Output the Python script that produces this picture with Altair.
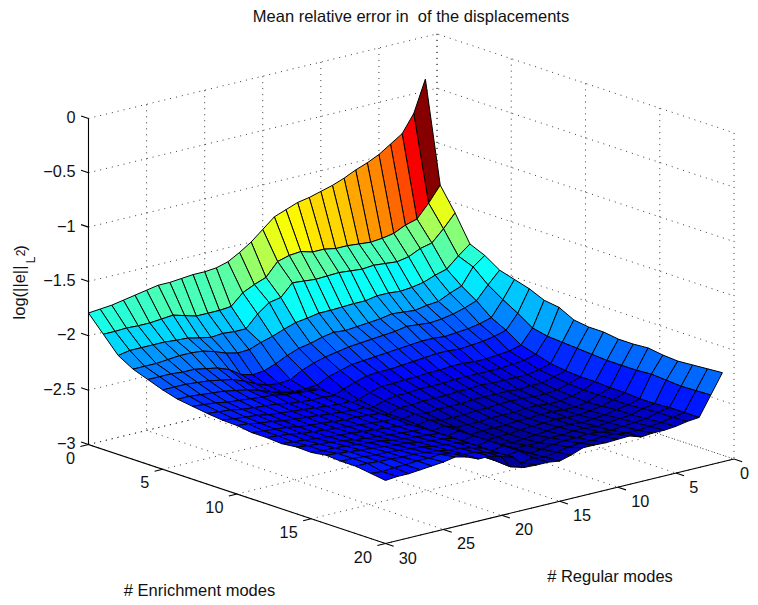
import altair as alt

# log error per enrichment count (0..20, rows) and regular count (1..30, columns)
Z = [
[-0.39,-0.68,-0.84,-0.91,-0.98,-1.03,-1.07,-1.12,-1.16,-1.19,-1.22,-1.24,-1.28,-1.32,-1.41,-1.50,-1.57,-1.63,-1.66,-1.67,-1.67,-1.68,-1.69,-1.69,-1.71,-1.73,-1.75,-1.77,-1.78,-1.79],
[-1.32,-1.46,-1.58,-1.61,-1.66,-1.68,-1.69,-1.68,-1.67,-1.67,-1.65,-1.65,-1.62,-1.63,-1.66,-1.78,-1.82,-1.87,-1.97,-1.98,-1.98,-1.98,-1.95,-1.92,-1.93,-1.94,-1.94,-1.935,-1.94,-1.94],
[-1.53,-1.65,-1.755,-1.78,-1.83,-1.85,-1.84,-1.83,-1.84,-1.83,-1.82,-1.825,-1.83,-1.82,-1.81,-1.92,-1.94,-2.02,-2.13,-2.13,-2.12,-2.13,-2.11,-2.085,-2.08,-2.07,-2.07,-2.07,-2.07,-2.09],
[-1.77,-1.855,-1.95,-1.98,-2.02,-2.04,-2.05,-2.04,-2.04,-2.06,-2.06,-2.065,-2.07,-2.07,-2.09,-2.105,-2.14,-2.18,-2.21,-2.25,-2.255,-2.23,-2.19,-2.16,-2.15,-2.15,-2.16,-2.17,-2.17,-2.17],
[-1.83,-1.91,-2.06,-2.10,-2.15,-2.16,-2.18,-2.17,-2.16,-2.18,-2.19,-2.20,-2.21,-2.20,-2.22,-2.25,-2.27,-2.31,-2.36,-2.40,-2.41,-2.38,-2.31,-2.27,-2.25,-2.23,-2.23,-2.22,-2.22,-2.22],
[-1.92,-2.03,-2.15,-2.19,-2.22,-2.24,-2.25,-2.24,-2.23,-2.25,-2.26,-2.27,-2.28,-2.29,-2.31,-2.33,-2.36,-2.40,-2.46,-2.47,-2.46,-2.42,-2.37,-2.33,-2.31,-2.29,-2.28,-2.27,-2.27,-2.27],
[-1.96,-2.12,-2.26,-2.29,-2.31,-2.32,-2.33,-2.32,-2.32,-2.33,-2.34,-2.35,-2.36,-2.37,-2.38,-2.41,-2.44,-2.49,-2.50,-2.50,-2.48,-2.45,-2.41,-2.38,-2.36,-2.34,-2.33,-2.32,-2.31,-2.31],
[-2.00,-2.20,-2.33,-2.36,-2.38,-2.39,-2.40,-2.39,-2.39,-2.40,-2.41,-2.42,-2.43,-2.43,-2.44,-2.47,-2.51,-2.55,-2.46,-2.45,-2.44,-2.43,-2.41,-2.40,-2.39,-2.38,-2.37,-2.35,-2.34,-2.33],
[-2.06,-2.29,-2.42,-2.45,-2.46,-2.47,-2.47,-2.46,-2.46,-2.47,-2.47,-2.48,-2.48,-2.49,-2.49,-2.52,-2.56,-2.59,-2.47,-2.46,-2.46,-2.45,-2.44,-2.42,-2.41,-2.40,-2.39,-2.37,-2.36,-2.35],
[-2.08,-2.32,-2.46,-2.49,-2.50,-2.51,-2.51,-2.51,-2.51,-2.51,-2.52,-2.52,-2.52,-2.53,-2.53,-2.55,-2.58,-2.60,-2.48,-2.48,-2.47,-2.46,-2.45,-2.44,-2.43,-2.42,-2.40,-2.39,-2.38,-2.365],
[-2.15,-2.33,-2.50,-2.53,-2.55,-2.55,-2.55,-2.55,-2.54,-2.55,-2.55,-2.56,-2.56,-2.56,-2.57,-2.57,-2.60,-2.62,-2.49,-2.49,-2.48,-2.47,-2.46,-2.45,-2.44,-2.43,-2.41,-2.40,-2.38,-2.37],
[-2.17,-2.34,-2.52,-2.55,-2.58,-2.58,-2.59,-2.58,-2.58,-2.58,-2.58,-2.59,-2.59,-2.59,-2.60,-2.58,-2.60,-2.62,-2.50,-2.49,-2.48,-2.48,-2.47,-2.46,-2.45,-2.44,-2.42,-2.41,-2.40,-2.39],
[-2.17,-2.35,-2.53,-2.57,-2.60,-2.61,-2.61,-2.60,-2.60,-2.60,-2.61,-2.61,-2.62,-2.62,-2.62,-2.59,-2.61,-2.63,-2.50,-2.50,-2.49,-2.48,-2.47,-2.46,-2.45,-2.44,-2.43,-2.41,-2.40,-2.39],
[-2.19,-2.36,-2.53,-2.58,-2.61,-2.63,-2.63,-2.62,-2.62,-2.63,-2.63,-2.63,-2.64,-2.64,-2.64,-2.60,-2.62,-2.63,-2.51,-2.50,-2.49,-2.48,-2.47,-2.46,-2.45,-2.44,-2.43,-2.42,-2.41,-2.40],
[-2.19,-2.36,-2.54,-2.58,-2.62,-2.64,-2.64,-2.63,-2.63,-2.64,-2.64,-2.65,-2.65,-2.65,-2.66,-2.60,-2.62,-2.64,-2.50,-2.50,-2.49,-2.48,-2.47,-2.46,-2.45,-2.43,-2.42,-2.41,-2.40,-2.385],
[-2.18,-2.36,-2.54,-2.58,-2.61,-2.63,-2.64,-2.64,-2.63,-2.64,-2.64,-2.65,-2.66,-2.66,-2.67,-2.60,-2.62,-2.64,-2.50,-2.49,-2.48,-2.47,-2.46,-2.44,-2.43,-2.42,-2.41,-2.40,-2.40,-2.39],
[-2.20,-2.35,-2.55,-2.58,-2.60,-2.62,-2.63,-2.64,-2.63,-2.63,-2.64,-2.65,-2.66,-2.67,-2.66,-2.60,-2.62,-2.64,-2.50,-2.48,-2.47,-2.46,-2.44,-2.43,-2.42,-2.41,-2.40,-2.39,-2.38,-2.37],
[-2.21,-2.36,-2.55,-2.57,-2.60,-2.61,-2.62,-2.63,-2.62,-2.62,-2.63,-2.63,-2.65,-2.65,-2.65,-2.60,-2.62,-2.64,-2.50,-2.47,-2.46,-2.45,-2.43,-2.42,-2.41,-2.40,-2.40,-2.39,-2.38,-2.38],
[-2.20,-2.37,-2.54,-2.56,-2.59,-2.60,-2.61,-2.62,-2.61,-2.60,-2.61,-2.61,-2.62,-2.64,-2.65,-2.60,-2.62,-2.64,-2.50,-2.47,-2.45,-2.44,-2.42,-2.41,-2.40,-2.40,-2.39,-2.39,-2.38,-2.38],
[-2.19,-2.365,-2.54,-2.56,-2.58,-2.59,-2.60,-2.60,-2.58,-2.58,-2.59,-2.59,-2.60,-2.62,-2.64,-2.62,-2.64,-2.65,-2.50,-2.47,-2.44,-2.43,-2.40,-2.38,-2.39,-2.39,-2.40,-2.40,-2.41,-2.40],
[-2.18,-2.36,-2.54,-2.55,-2.57,-2.58,-2.58,-2.59,-2.555,-2.56,-2.565,-2.56,-2.56,-2.60,-2.63,-2.615,-2.615,-2.61,-2.49,-2.46,-2.43,-2.43,-2.385,-2.36,-2.38,-2.39,-2.40,-2.41,-2.41,-2.42],
]
ENRICH = list(range(0, 21))
REGULAR = list(range(1, 31))
Z_TICKS = [0, -0.5, -1, -1.5, -2, -2.5, -3]
E_TICKS = [0, 5, 10, 15, 20]
R_TICKS = [0, 5, 10, 15, 20, 25, 30]
TITLE = "Mean relative error in\u00a0 of the displacements"

W, H = 742, 592
FONT = "Liberation Sans"

def proj(e, r, z):
    """Orthographic view of the box, in chart pixels."""
    return [437 - 8 + 14.85 * e - 11.617 * r,
            360 - 8 + 4.95 * e + 2.817 * r - 108.7 * (z + 3)]

def jet(t):
    def c(v):
        return max(0.0, min(1.0, v))
    r = c(min(4 * t - 1.5, -4 * t + 4.5))
    g = c(min(4 * t - 0.5, -4 * t + 3.5))
    b = c(min(4 * t + 0.5, -4 * t + 2.5))
    return "#%02x%02x%02x" % (round(r * 255), round(g * 255), round(b * 255))

JET = [jet((i + 0.5) / 64) for i in range(64)]
zmin = -2.72
zmax = max(max(row) for row in Z)

def line_feature(pts):
    return {"type": "Feature", "properties": {},
            "geometry": {"type": "LineString", "coordinates": pts}}

# page frame, so the identity projection stays at one pixel per unit
frame = {"type": "Feature", "properties": {},
         "geometry": {"type": "Polygon",
                      "coordinates": [[[0, 0], [0, H], [W, H], [W, 0], [0, 0]]]}}

cells = []
for i in range(len(ENRICH) - 1):
    for j in range(len(REGULAR) - 1):
        e0, e1 = ENRICH[i], ENRICH[i + 1]
        r0, r1 = REGULAR[j], REGULAR[j + 1]
        ring = [proj(e0, r0, Z[i][j]), proj(e0, r1, Z[i][j + 1]),
                proj(e1, r1, Z[i + 1][j + 1]), proj(e1, r0, Z[i + 1][j]),
                proj(e0, r0, Z[i][j])]
        cells.append({"type": "Feature", "properties": {"z": Z[i][j]},
                      "geometry": {"type": "Polygon", "coordinates": [ring]}})

grid = []
zt, zb = 0, -3
emax, rmax = E_TICKS[-1], R_TICKS[-1]
for z in Z_TICKS:
    grid.append(line_feature([proj(0, rmax, z), proj(0, 0, z), proj(emax, 0, z)]))
for e in E_TICKS:
    grid.append(line_feature([proj(e, 0, zt), proj(e, 0, zb), proj(e, rmax, zb)]))
for r in R_TICKS:
    grid.append(line_feature([proj(0, r, zt), proj(0, r, zb), proj(emax, r, zb)]))

axes = [line_feature([proj(0, rmax, zt), proj(0, rmax, zb), proj(emax, rmax, zb), proj(emax, 0, zb)])]
for z in Z_TICKS:
    axes.append(line_feature([proj(0, rmax, z), proj(-0.5, rmax, z)]))
for e in E_TICKS:
    axes.append(line_feature([proj(e, rmax, zb), proj(e, rmax + 0.7, zb)]))
for r in R_TICKS:
    axes.append(line_feature([proj(emax, r, zb), proj(emax + 0.55, r, zb)]))

def geo(features):
    return alt.Data(values=features)

P = dict(type="identity")

frame_layer = alt.Chart(geo([frame])).mark_geoshape(
    filled=False, stroke="#ffffff", strokeOpacity=0, strokeWidth=0).project(**P)
grid_layer = alt.Chart(geo(grid)).mark_geoshape(
    filled=False, stroke="#222222", strokeWidth=0.9, strokeDash=[1, 5]).project(**P)
axes_layer = alt.Chart(geo(axes)).mark_geoshape(
    filled=False, stroke="#000000", strokeWidth=1.1).project(**P)
surf_layer = alt.Chart(geo(cells)).mark_geoshape(
    stroke="#000000", strokeWidth=1.0).encode(
    fill=alt.Fill("properties.z:Q",
                  scale=alt.Scale(type="quantize", domain=[zmin, zmax], range=JET),
                  legend=None)).project(**P)

def minus(v):
    return str(v).replace("-", "\u2212")

labels_r, labels_l = [], []
for z in Z_TICKS:
    p = proj(0, rmax, z)
    labels_r.append({"t": minus(z), "x": p[0] - 13, "y": p[1] - 0.5})
for e in E_TICKS:
    p = proj(e, rmax, zb)
    labels_r.append({"t": str(e), "x": p[0] - 13.5, "y": p[1] + 14})
for r in R_TICKS:
    p = proj(emax, r, zb)
    # the page ends at the far right, so the last label stays just inside it
    labels_l.append({"t": str(r), "x": min(p[0] + 13.3, W - 10), "y": p[1] + 15})

def text_layer(rows, size, angle=0, align="center"):
    return alt.Chart(alt.Data(values=rows)).mark_text(
        font=FONT, fontSize=size, color="#111111", angle=angle, align=align, baseline="middle").encode(
        x=alt.X("x:Q", scale=None, axis=None), y=alt.Y("y:Q", scale=None, axis=None), text="t:N")

ticks_r = text_layer(labels_r, 16.3, align="right")
ticks_l = text_layer(labels_l, 16.3, align="left")
title = text_layer([{"t": TITLE, "x": 403, "y": 9}], 16.5)
xlab = text_layer([{"t": "# Enrichment modes", "x": 191.5, "y": 583},
                   {"t": "# Regular modes", "x": 602, "y": 569}], 16.5)
ylab = text_layer([{"t": "log(||e||", "x": 12, "y": 284.5}, {"t": ")", "x": 12.5, "y": 240}], 16.5, angle=270)
ylab2 = text_layer([{"t": "L", "x": 23, "y": 252}], 12, angle=270)
ylab3 = text_layer([{"t": "2", "x": 13, "y": 245}], 12, angle=270)

chart = alt.layer(frame_layer, grid_layer, surf_layer, axes_layer, ticks_r, ticks_l, title, xlab, ylab, ylab2, ylab3).resolve_scale(
    x="independent", y="independent"
).properties(width=W, height=H, padding=0, autosize=alt.AutoSizeParams(type="none")).configure_view(stroke=None)

chart.save("out.html", embed_options={"renderer": "svg", "actions": False})
